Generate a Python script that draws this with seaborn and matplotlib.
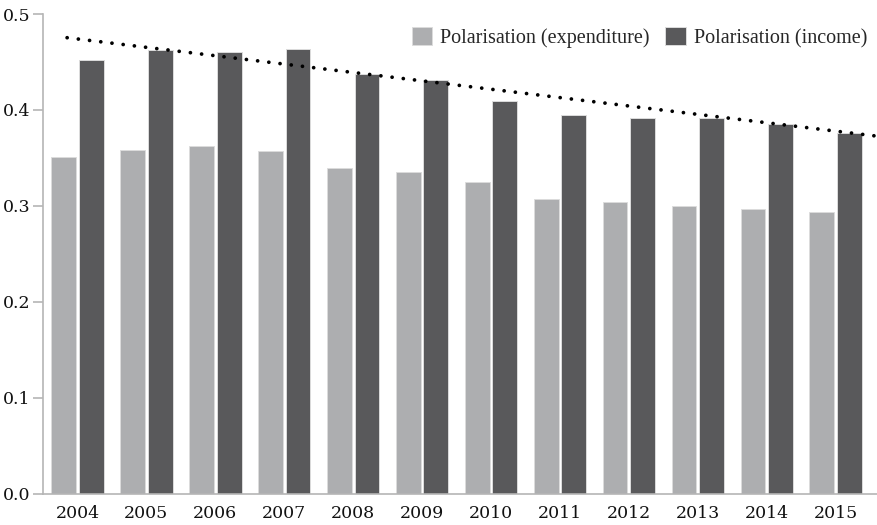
import numpy as np
import pandas as pd
import matplotlib
matplotlib.use("Agg")
import matplotlib.pyplot as plt
import seaborn as sns

# values
years = ["2004", "2005", "2006", "2007", "2008", "2009",
         "2010", "2011", "2012", "2013", "2014", "2015"]
expenditure = [0.351, 0.358, 0.362, 0.357, 0.340, 0.335,
               0.325, 0.307, 0.304, 0.300, 0.297, 0.294]
income = [0.452, 0.462, 0.460, 0.464, 0.437, 0.431,
          0.409, 0.395, 0.392, 0.392, 0.385, 0.376]
# linear trend line (values at 2004 and 2015)
trend_vals = [0.474, 0.378]

labels = ["Polarisation (expenditure)", "Polarisation (income)"]
colors = ["#adaeb0", "#59595b"]

df = pd.DataFrame({
    "year": years * 2,
    "value": expenditure + income,
    "series": [labels[0]] * len(years) + [labels[1]] * len(years),
})

sns.set_theme(style="white")
plt.rcParams["font.family"] = ["DejaVu Serif"]

fig = plt.figure(figsize=(8.77, 5.25), dpi=100)
ax = fig.add_axes([43 / 877, 1 - 494 / 525, 1 - 43 / 877, 480 / 525])

sns.barplot(data=df, x="year", y="value", hue="series", palette=colors,
            width=0.8, gap=0.1, edgecolor="#dcdcdc", linewidth=0.7,
            ax=ax, legend=True)

# dotted trend line, extended a bit on both sides like the original
coef = np.polyfit([0, len(years) - 1], trend_vals, 1)
tx = np.array([-0.15, 11.6])
ax.plot(tx, np.polyval(coef, tx), color="black", linewidth=2.7,
        linestyle=(0, (0.01, 3.0)), dash_capstyle="round", zorder=5)

ax.set_xlim(-0.5, 11.6)
ax.set_ylim(0, 0.5)
ax.set_yticks(np.arange(0, 0.51, 0.1))
ax.set_yticklabels([f"{v:.1f}" for v in np.arange(0, 0.51, 0.1)])
ax.set_xlabel("")
ax.set_ylabel("")

for s in ["top", "right"]:
    ax.spines[s].set_visible(False)
for s in ["left", "bottom"]:
    ax.spines[s].set_color("#b5b5b5")
    ax.spines[s].set_linewidth(1.2)

ax.tick_params(axis="y", which="both", left=True, length=7, width=1.2,
               color="#b5b5b5", labelsize=12.5, pad=2, labelcolor="#111111")
ax.tick_params(axis="x", bottom=False, labelsize=12.5, pad=2,
               labelcolor="#111111")

leg = ax.legend(loc="upper right", bbox_to_anchor=(1.0, 0.993), ncol=2,
                frameon=False, handlelength=1.0, handleheight=1.0,
                handletextpad=0.4, columnspacing=0.8, borderaxespad=0.1,
                prop={"family": "Liberation Serif", "size": 14.5})
for h in leg.legend_handles:
    h.set_edgecolor("#dcdcdc")

fig.savefig("out.png", dpi=100)
